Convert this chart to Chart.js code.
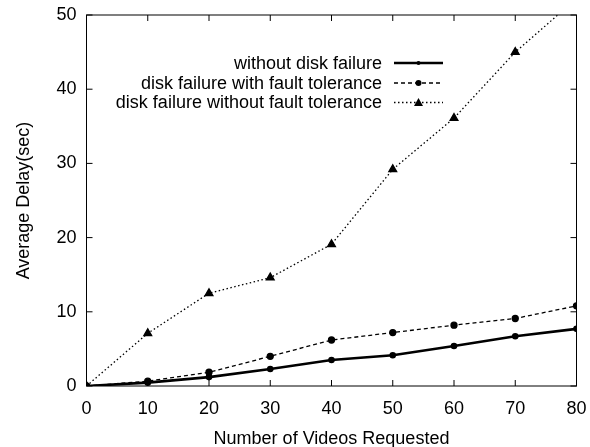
<!DOCTYPE html>
<html>
<head>
<meta charset="utf-8">
<script src="https://cdn.jsdelivr.net/npm/chart.js@4"></script>
<style>
  html, body { margin: 0; padding: 0; background: #fff; }
  #wrap { width: 590px; height: 447px; }
</style>
</head>
<body>
<div id="wrap"><canvas id="delayChart" width="590" height="447"></canvas></div>
<script>
const videosRequested = [0, 10, 20, 30, 40, 50, 60, 70, 80];
const withoutFailure = [0, 0.45, 1.2, 2.3, 3.5, 4.15, 5.4, 6.7, 7.7];
const withTolerance = [0, 0.65, 1.85, 4.0, 6.2, 7.2, 8.2, 9.1, 10.8];
const withoutTolerance = [0, 7.1, 12.5, 14.6, 19.1, 29.2, 36.1, 45.0, 52.2];
const xTicks = [0, 10, 20, 30, 40, 50, 60, 70, 80];
const yTicks = [0, 10, 20, 30, 40, 50];

const FONT = '"Liberation Sans", Arial, sans-serif';

function toPoints(values) {
  return values.map((v, i) => ({ x: videosRequested[i], y: v }));
}

// gnuplot-like box with inward ticks on all four sides
const frameBox = {
  id: 'frameBox',
  afterDraw(chart) {
    const { ctx, chartArea: a, scales } = chart;
    ctx.save();
    ctx.strokeStyle = '#000';
    ctx.lineWidth = 1;
    ctx.strokeRect(a.left, a.top, a.right - a.left, a.bottom - a.top);
    ctx.beginPath();
    const len = 6;
    xTicks.forEach(t => {
      const x = scales.x.getPixelForValue(t);
      ctx.moveTo(x, a.bottom); ctx.lineTo(x, a.bottom - len);
      ctx.moveTo(x, a.top); ctx.lineTo(x, a.top + len);
    });
    yTicks.forEach(t => {
      const y = scales.y.getPixelForValue(t);
      ctx.moveTo(a.left, y); ctx.lineTo(a.left + len, y);
      ctx.moveTo(a.right, y); ctx.lineTo(a.right - len, y);
    });
    ctx.stroke();
    ctx.restore();
  }
};

// key inside the plot: text right aligned, sample line to its right
const keyBox = {
  id: 'keyBox',
  afterDatasetsDraw(chart) {
    const { ctx } = chart;
    const textRight = 382, lineLeft = 394, lineRight = 443;
    const rows = [63, 83, 102.5];
    ctx.save();
    ctx.font = '18px ' + FONT;
    ctx.textAlign = 'right';
    ctx.textBaseline = 'middle';
    chart.data.datasets.forEach((ds, i) => {
      const y = rows[i];
      ctx.fillStyle = '#000';
      ctx.fillText(ds.label, textRight, y + 1);
      ctx.strokeStyle = '#000';
      ctx.lineWidth = ds.borderWidth;
      ctx.setLineDash(ds.borderDash || []);
      ctx.beginPath();
      ctx.moveTo(lineLeft, y); ctx.lineTo(lineRight, y);
      ctx.stroke();
      ctx.setLineDash([]);
      const cx = (lineLeft + lineRight) / 2, r = ds.pointRadius;
      ctx.beginPath();
      if (ds.pointStyle === 'triangle') {
        ctx.moveTo(cx, y - r);
        ctx.lineTo(cx + r, y + r * 0.75);
        ctx.lineTo(cx - r, y + r * 0.75);
        ctx.closePath();
      } else {
        ctx.arc(cx, y, r, 0, Math.PI * 2);
      }
      ctx.fill();
    });
    ctx.restore();
  }
};

const chart = new Chart(document.getElementById('delayChart').getContext('2d'), {
  type: 'line',
  data: {
    datasets: [
      {
        label: 'without disk failure',
        data: toPoints(withoutFailure),
        borderColor: '#000',
        backgroundColor: '#000',
        borderWidth: 2.6,
        pointStyle: 'circle',
        pointRadius: 2,
        tension: 0
      },
      {
        label: 'disk failure with fault tolerance',
        data: toPoints(withTolerance),
        borderColor: '#000',
        backgroundColor: '#000',
        borderWidth: 1.3,
        borderDash: [4, 3],
        pointStyle: 'circle',
        pointRadius: 3,
        tension: 0
      },
      {
        label: 'disk failure without fault tolerance',
        data: toPoints(withoutTolerance),
        borderColor: '#000',
        backgroundColor: '#000',
        borderWidth: 1.3,
        borderDash: [1.5, 2.5],
        pointStyle: 'triangle',
        pointRadius: 4.5,
        tension: 0
      }
    ]
  },
  options: {
    responsive: false,
    animation: false,
    devicePixelRatio: 1,
    layout: { padding: { top: 15, right: 13.5, left: 0, bottom: 0 } },
    scales: {
      x: {
        type: 'linear',
        min: 0,
        max: 80,
        afterBuildTicks: s => { s.ticks = xTicks.map(v => ({ value: v })); },
        afterFit: s => { s.height = 61; s.paddingLeft = 0; s.paddingRight = 0; },
        grid: { display: false, drawTicks: false },
        border: { display: false },
        ticks: { color: '#000', font: { family: FONT, size: 18 }, padding: 12, maxRotation: 0 },
        title: {
          display: true,
          text: 'Number of Videos Requested',
          color: '#000',
          font: { family: FONT, size: 18 },
          padding: { top: 2, bottom: -3 }
        }
      },
      y: {
        min: 0,
        max: 50,
        afterBuildTicks: s => { s.ticks = yTicks.map(v => ({ value: v })); },
        afterFit: s => { s.width = 86.5; s.paddingTop = 0; s.paddingBottom = 0; },
        grid: { display: false, drawTicks: false },
        border: { display: false },
        ticks: { color: '#000', font: { family: FONT, size: 18 }, padding: 10 },
        title: {
          display: true,
          text: 'Average Delay(sec)',
          color: '#000',
          font: { family: FONT, size: 18 },
          padding: { top: 13, bottom: 0 }
        }
      }
    },
    plugins: {
      legend: { display: false },
      tooltip: { enabled: false }
    }
  },
  plugins: [frameBox, keyBox]
});
</script>
</body>
</html>
